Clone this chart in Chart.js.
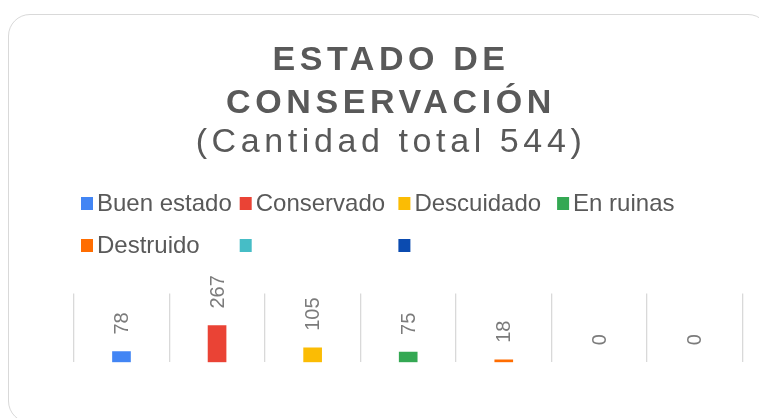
<!DOCTYPE html>
<html>
<head>
<meta charset="utf-8">
<script src="https://cdn.jsdelivr.net/npm/chart.js@4.4.1/dist/chart.umd.min.js"></script>
<style>
  html, body { margin: 0; padding: 0; background: #ffffff; overflow: hidden; width: 759px; height: 418px; }
  #card { position: absolute; left: 8px; top: 14px; width: 762px; height: 409px; border: 1.5px solid #d9d9d9; border-radius: 22px; box-sizing: border-box; }
  #wrap { position: absolute; left: 0; top: 0; width: 759px; height: 418px; }
</style>
</head>
<body>
<div id="card"></div>
<div id="wrap"><canvas id="c" width="759" height="418"></canvas></div>
<script>
// ---- data ----
const categories = ['Buen estado', 'Conservado', 'Descuidado', 'En ruinas', 'Destruido', '', ''];
const values = [78, 267, 105, 75, 18, 0, 0];
const colors = ['#4285F4', '#EA4335', '#FBBC04', '#34A853', '#FF6D01', '#46BDC6', '#0B4BB0'];
const titleLines = ['ESTADO DE', 'CONSERVACIÓN'];
const subtitleText = '(Cantidad total 544)';

const FONT = "'Liberation Sans', Arial, 'DejaVu Sans', sans-serif";
const TEXT_COLOR = '#595959';

// letter spacing for title / subtitle
const TitleEl = Chart.Title && Chart.Title._element;
if (TitleEl) {
  const origDraw = TitleEl.prototype.draw;
  TitleEl.prototype.draw = function () {
    const ctx = this.ctx;
    const prev = ctx.letterSpacing;
    try { ctx.letterSpacing = '4.6px'; } catch (e) {}
    origDraw.call(this);
    try { ctx.letterSpacing = prev || '0px'; } catch (e) {}
  };
}

// legend drawn in a fixed column grid (as in the reference)
const gridLegend = {
  id: 'gridLegend',
  afterDraw(chart, args, opts) {
    const ctx = chart.ctx;
    ctx.save();
    ctx.font = '24px ' + FONT;
    ctx.textBaseline = 'alphabetic';
    ctx.textAlign = 'left';
    categories.forEach((label, i) => {
      const col = i % opts.perRow;
      const row = Math.floor(i / opts.perRow);
      const x = opts.x0 + col * opts.colW;
      const base = opts.y0 + row * opts.rowH;
      ctx.fillStyle = colors[i];
      ctx.fillRect(x, base - 14, 12, 13);
      if (label) {
        ctx.fillStyle = TEXT_COLOR;
        ctx.fillText(label, x + 16, base);
      }
    });
    ctx.restore();
  }
};

// rotated value labels above bars
const valueLabels = {
  id: 'valueLabels',
  afterDatasetsDraw(chart) {
    const ctx = chart.ctx;
    const meta = chart.getDatasetMeta(0);
    ctx.save();
    ctx.font = '20px ' + FONT;
    ctx.fillStyle = '#7b7b7b';
    ctx.textAlign = 'left';
    ctx.textBaseline = 'middle';
    meta.data.forEach((bar, i) => {
      ctx.save();
      ctx.translate(bar.x + 1, bar.y - 17);
      ctx.rotate(-Math.PI / 2);
      ctx.fillText(String(values[i]), 0, 0);
      ctx.restore();
    });
    ctx.restore();
  }
};

new Chart(document.getElementById('c'), {
  type: 'bar',
  data: {
    labels: categories,
    datasets: [{
      data: values,
      backgroundColor: (c) => (c.raw === 0 ? 'rgba(0,0,0,0)' : colors[c.dataIndex]),
      borderWidth: 0,
      barThickness: 18
    }]
  },
  options: {
    responsive: false,
    animation: false,
    events: [],
    layout: { padding: { left: 39.3, right: 16.3, top: 0, bottom: 55.7 } },
    plugins: {
      legend: { display: false },
      tooltip: { enabled: false },
      title: {
        display: true,
        text: titleLines,
        color: TEXT_COLOR,
        font: { family: FONT, size: 34, weight: 'bold', lineHeight: 43 / 34 },
        padding: { top: 38.7, bottom: 0 }
      },
      subtitle: {
        display: true,
        text: subtitleText,
        color: TEXT_COLOR,
        font: { family: FONT, size: 34, weight: 'normal', lineHeight: 35 / 34 },
        padding: { top: 0, bottom: 133.8 }
      },
      gridLegend: { x0: 81, y0: 211, colW: 158.7, rowH: 42, perRow: 4 }
    },
    scales: {
      x: {
        display: true,
        ticks: { display: false },
        grid: { display: true, offset: true, color: '#d9d9d9', lineWidth: 1.3, drawTicks: false },
        border: { display: false }
      },
      y: {
        display: true,
        min: 0,
        max: 500,
        ticks: { display: false },
        grid: { display: false, drawTicks: false },
        border: { display: false },
        afterFit(scale) { scale.width = 34.4; }
      }
    }
  },
  plugins: [gridLegend, valueLabels]
});
</script>
</body>
</html>
